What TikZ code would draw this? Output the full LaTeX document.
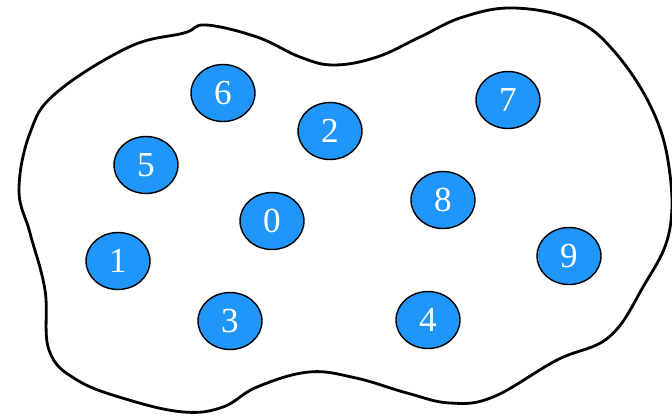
\documentclass[tikz,border=0pt]{standalone}
\usepackage{fontspec}
\setmainfont{Liberation Serif}
\usepackage{xcolor}
\usepackage{tikz}
\usetikzlibrary{positioning, shapes.geometric}
\definecolor{ballblue}{RGB}{33,150,250}

\begin{document}
\begin{tikzpicture}[x=0.02cm, y=-0.02cm,
    ball/.style={draw=black, line width=0.8pt, ellipse, fill=ballblue, text=white,
        minimum width=1.28cm, minimum height=1.14cm, inner sep=0pt,
        font=\fontsize{20}{24}\selectfont}]
    \useasboundingbox (0,0) rectangle (672,417);
    % outline of the set
    \draw[line width=1.6pt] plot[smooth cycle, tension=0.65] coordinates {
        (206,25) (257,37) (300,57) (334,65) (377,57) (420,37) (463,17) (514,8)
        (574,20) (613,50) (651,107) (669,167) (669,233) (643,287) (609,337)
        (557,360) (493,397) (450,403) (407,393) (356,378) (309,372) (257,387)
        (223,407) (184,412) (129,400) (77,380) (49,350) (45,290) (30,233)
        (19,190) (30,133) (56,93) (129,47) (184,33)};
    % elements
    \node[ball] (n6) at (223,93) {6};
    \node[ball] (n2) at (330,131) {2};
    \node[ball] (n7) at (508,100) {7};
    \node[ball] (n5) at (146,165) {5};
    \node[ball] (n0) at (272,221) {0};
    \node[ball] (n8) at (443,200) {8};
    \node[ball] (n1) at (118,261) {1};
    \node[ball] (n9) at (569,256) {9};
    \node[ball] (n3) at (230,321) {3};
    \node[ball] (n4) at (428,320) {4};
\end{tikzpicture}
\end{document}
